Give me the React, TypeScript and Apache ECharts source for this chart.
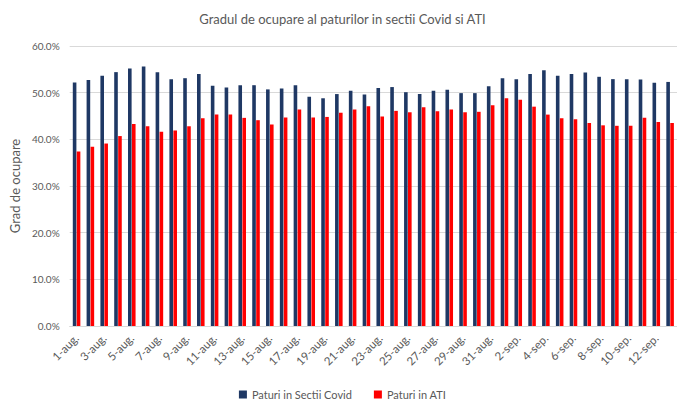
import React, { useEffect, useRef } from "react";
import * as echarts from "echarts";

const days: string[] = [];
for (let d = 1; d <= 31; d++) days.push(`${d}-aug.`);
for (let d = 1; d <= 13; d++) days.push(`${d}-sep.`);
const categories = days;

const sectiiCovid = [
  52.2, 52.7, 53.6, 54.4, 55.2, 55.6, 54.4, 52.9, 53.1, 54.0,
  51.5, 51.1, 51.6, 51.6, 50.7, 50.9, 51.6, 49.1, 48.8, 49.7,
  50.4, 49.6, 51.0, 51.2, 50.1, 49.7, 50.4, 50.6, 49.9, 49.9,
  51.4, 53.1, 52.9, 54.0, 54.8, 53.6, 54.0, 54.3, 53.4, 52.9,
  52.9, 52.8, 52.1, 52.3,
];
const ati = [
  37.4, 38.4, 39.1, 40.7, 43.3, 42.8, 41.6, 41.9, 42.8, 44.5,
  45.3, 45.3, 44.6, 44.1, 43.2, 44.7, 46.4, 44.7, 44.8, 45.7,
  46.4, 47.1, 44.9, 46.1, 45.8, 46.9, 46.0, 46.4, 45.8, 45.9,
  47.3, 48.8, 48.5, 47.0, 45.3, 44.5, 44.3, 43.5, 43.0, 42.9,
  42.9, 44.6, 43.7, 43.5,
];

const FONT = "Lato, 'Open Sans', sans-serif";
const GRAY = "#595959";

export default function App() {
  const ref = useRef<HTMLDivElement>(null);
  useEffect(() => {
    if (!ref.current) return;
    const chart = echarts.init(ref.current, undefined, { renderer: "svg" });
    chart.setOption({
      animation: false,
      textStyle: { fontFamily: FONT },
      title: {
        text: "Gradul de ocupare al paturilor in sectii Covid si ATI",
        left: "center",
        top: 7,
        textStyle: { fontSize: 13, fontWeight: "normal", color: GRAY, fontFamily: FONT },
      },
      legend: {
        bottom: 4,
        left: "center",
        itemWidth: 8,
        itemHeight: 8,
        itemGap: 22,
        icon: "rect",
        textStyle: { fontSize: 11, color: GRAY, fontFamily: FONT },
        data: ["Paturi in Sectii Covid", "Paturi in ATI"],
      },
      grid: { left: 67, right: 8, top: 46, bottom: 83 },
      xAxis: {
        type: "category",
        data: categories,
        axisTick: { show: false },
        axisLine: { lineStyle: { color: "#d9d9d9" } },
        axisLabel: {
          interval: 1,
          rotate: 45,
          fontSize: 11.5,
          color: GRAY,
          fontFamily: FONT,
          margin: 10,
        },
      },
      yAxis: {
        type: "value",
        min: 0,
        max: 60,
        interval: 10,
        name: "Grad de ocupare",
        nameLocation: "middle",
        nameGap: 47,
        nameTextStyle: { fontSize: 13, color: GRAY, fontFamily: FONT },
        axisLine: { show: false },
        axisTick: { show: false },
        axisLabel: {
          formatter: (v: number) => v.toFixed(1) + "%",
          fontSize: 10,
          color: GRAY,
          fontFamily: FONT,
          margin: 10,
        },
        splitLine: { lineStyle: { color: "#d9d9d9" } },
      },
      series: [
        {
          name: "Paturi in Sectii Covid",
          type: "bar",
          data: sectiiCovid,
          barWidth: 3.6,
          barGap: "10%",
          itemStyle: { color: "#1f3864" },
        },
        {
          name: "Paturi in ATI",
          type: "bar",
          data: ati,
          barWidth: 3.6,
          itemStyle: { color: "#ff0000" },
        },
      ],
    });
    return () => chart.dispose();
  }, []);
  return <div ref={ref} style={{ width: 685, height: 409, margin: -8 }} />;
}
